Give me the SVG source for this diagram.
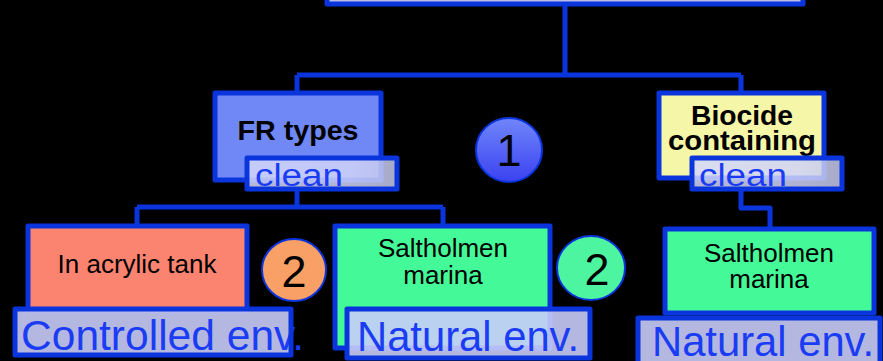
<svg xmlns="http://www.w3.org/2000/svg" width="883" height="361" viewBox="0 0 883 361">
  <defs>
    <linearGradient id="badgeBlue" x1="0" y1="0" x2="0" y2="1">
      <stop offset="0" stop-color="#7086fa"/>
      <stop offset="1" stop-color="#3a42f0"/>
    </linearGradient>
    <linearGradient id="tagFill" x1="0" y1="0" x2="1" y2="0">
      <stop offset="0" stop-color="#d4d8fc"/>
      <stop offset="0.7" stop-color="#d0d4f8"/>
      <stop offset="1" stop-color="#c4c8ec"/>
    </linearGradient>
    <style>
      .edge { fill: none; stroke: #0a34dc; stroke-width: 5; stroke-linejoin: round; }
      .box { stroke: #0a34dc; stroke-width: 5; stroke-linejoin: round; }
      .frame { fill: none; stroke: #0a34dc; stroke-width: 5; stroke-linejoin: round; }
      .tag { fill: url(#tagFill); fill-opacity: 0.85; }
      .env { fill: #c8ccf8; fill-opacity: 0.9; }
      .bold { font-family: "Liberation Sans", Arial, sans-serif; font-weight: bold; font-size: 28px; fill: #000; text-anchor: middle; }
      .label { font-family: "Liberation Sans", Arial, sans-serif; font-size: 26px; fill: #000; text-anchor: middle; }
      .tagtext { font-family: "Liberation Sans", Arial, sans-serif; font-size: 31px; fill: #1a3cf5; }
      .envtext { font-family: "Liberation Sans", Arial, sans-serif; font-size: 42px; fill: #1a3cf5; }
      .digit { font-family: "Liberation Sans", Arial, sans-serif; font-size: 45px; fill: #000; text-anchor: middle; }
      .badge { stroke: #0a34dc; stroke-width: 2; }
    </style>
  </defs>

  <rect width="883" height="361" fill="#000"/>

  <!-- tree connectors -->
  <g id="connectors">
    <path class="edge" d="M565,4 V75 M297,75 H741 M297,75 V93 M741,75 V93"/>
    <path class="edge" d="M297,190 V207 M137,207 H443 M137,207 V226 M443,207 V226"/>
    <path class="edge" d="M741,189 V208 H770 V228"/>
  </g>

  <!-- root box, cut off by the top edge -->
  <g id="root">
    <rect class="box" x="327" y="-40" width="476" height="44" fill="#b8bce8"/>
  </g>

  <g id="fr-types">
    <rect class="box" x="215" y="93" width="166" height="87" fill="#6f88f5"/>
    <text class="bold" x="298" y="140" textLength="121" lengthAdjust="spacingAndGlyphs">FR types</text>
  </g>

  <g id="fr-clean">
    <rect class="tag" x="247" y="158" width="150" height="31"/>
    <text class="tagtext" x="255" y="186" textLength="88" lengthAdjust="spacingAndGlyphs">clean</text>
    <rect class="frame" x="247" y="158" width="150" height="31"/>
  </g>

  <g id="biocide">
    <rect class="box" x="659" y="93" width="165" height="85" fill="#f6f6a8"/>
    <text class="bold" x="742" y="125" textLength="102" lengthAdjust="spacingAndGlyphs">Biocide</text>
    <text class="bold" x="742" y="150" textLength="148" lengthAdjust="spacingAndGlyphs">containing</text>
  </g>

  <g id="biocide-clean">
    <rect class="tag" x="692" y="158" width="150" height="31"/>
    <text class="tagtext" x="699" y="186" textLength="88" lengthAdjust="spacingAndGlyphs">clean</text>
    <rect class="frame" x="692" y="158" width="150" height="31"/>
  </g>

  <g id="badge-1">
    <ellipse class="badge" cx="509" cy="150" rx="33" ry="32" fill="url(#badgeBlue)"/>
    <text class="digit" x="509" y="166" font-size="42">1</text>
  </g>

  <g id="acrylic-tank">
    <rect class="box" x="28" y="226" width="219" height="84" fill="#fa8470"/>
    <text class="label" x="137" y="273">In acrylic tank</text>
  </g>

  <g id="controlled-env">
    <rect class="env" x="15" y="309" width="276" height="46"/>
    <text class="envtext" x="21" y="350" textLength="283" lengthAdjust="spacingAndGlyphs">Controlled env.</text>
    <rect class="frame" x="15" y="309" width="276" height="46"/>
  </g>

  <g id="badge-2-tank">
    <ellipse class="badge" cx="294" cy="270" rx="32" ry="31" fill="#f9a066"/>
    <text class="digit" x="294" y="287">2</text>
  </g>

  <g id="saltholmen-fr">
    <rect class="box" x="335" y="226" width="215" height="122" fill="#44fa98"/>
    <text class="label" x="443" y="257">Saltholmen</text>
    <text class="label" x="443" y="284">marina</text>
  </g>

  <g id="natural-env-fr">
    <rect class="env" x="347" y="309" width="243" height="49"/>
    <text class="envtext" x="357" y="351" textLength="222" lengthAdjust="spacingAndGlyphs">Natural env.</text>
    <rect class="frame" x="347" y="309" width="243" height="49"/>
  </g>

  <g id="badge-2-marina">
    <ellipse class="badge" cx="591" cy="268" rx="34" ry="32" fill="#4ef5a0"/>
    <text class="digit" x="597" y="285">2</text>
  </g>

  <g id="saltholmen-biocide">
    <rect class="box" x="665" y="229" width="209" height="84" fill="#44fa98"/>
    <text class="label" x="769" y="262">Saltholmen</text>
    <text class="label" x="769" y="288">marina</text>
  </g>

  <g id="natural-env-biocide">
    <rect class="env" x="638" y="318" width="242" height="50"/>
    <text class="envtext" x="652" y="356" textLength="222" lengthAdjust="spacingAndGlyphs">Natural env.</text>
    <rect class="frame" x="638" y="318" width="242" height="50"/>
  </g>
</svg>
